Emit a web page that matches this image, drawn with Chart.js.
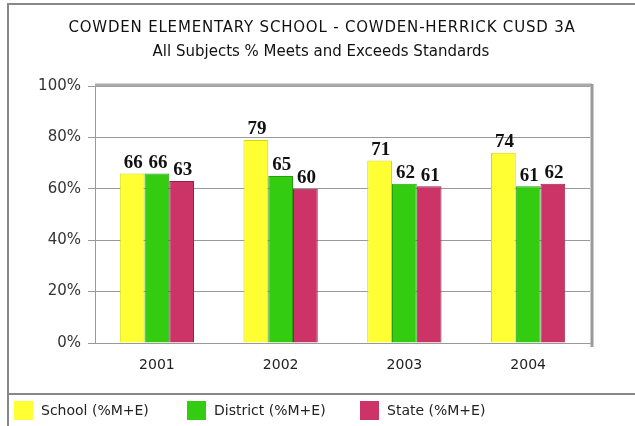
<!DOCTYPE html>
<html>
<head>
<meta charset="utf-8">
<script src="https://cdn.jsdelivr.net/npm/chart.js@4/dist/chart.umd.min.js"></script>
<style>
  html, body { margin: 0; padding: 0; background: #fff; }
  #wrap { width: 635px; height: 426px; position: relative; }
</style>
</head>
<body>
<div id="wrap"><canvas id="chart" width="635" height="426"></canvas></div>
<script>
  "use strict";

  // Data
  const years = ["2001", "2002", "2003", "2004"];
  const schoolValues = [66, 79, 71, 74];
  const districtValues = [66, 65, 62, 61];
  const stateValues = [63, 60, 61, 62];
  const seriesLabels = ["School (%M+E)", "District (%M+E)", "State (%M+E)"];
  const titleLines = [
    "COWDEN ELEMENTARY SCHOOL - COWDEN-HERRICK CUSD 3A",
    "All Subjects % Meets and Exceeds Standards",
  ];

  const fill = ["#ffff33", "#33cc11", "#cc3366"];
  const edge = ["#d8d800", "#22a010", "#992244"];
  const sansFont = "'DejaVu Sans', Verdana, sans-serif";

  // Frame, titles, 3D wall, value labels and legend
  const decorPlugin = {
    id: "decor",
    beforeDraw(chart) {
      const c = chart.ctx;
      c.save();
      c.fillStyle = "#fff";
      c.fillRect(0, 0, chart.width, chart.height);
      c.strokeStyle = "#888";
      c.lineWidth = 2;
      c.beginPath();
      c.moveTo(635, 4);
      c.lineTo(8, 4);
      c.lineTo(8, 426);
      c.stroke();
      c.beginPath();
      c.moveTo(8, 394);
      c.lineTo(635, 394);
      c.stroke();

      // titles
      c.fillStyle = "#111";
      c.textAlign = "center";
      c.textBaseline = "middle";
      c.font = "15px " + sansFont;
      c.letterSpacing = "0.8px";
      c.fillText(titleLines[0], 322, 28);
      c.letterSpacing = "0px";
      c.fillText(titleLines[1], 321, 52);
      c.restore();
    },
    afterDatasetsDraw(chart) {
      const c = chart.ctx;
      const a = chart.chartArea;
      c.save();
      // 3D top and right wall
      c.strokeStyle = "#aaa";
      c.lineWidth = 3;
      c.beginPath();
      c.moveTo(a.left, a.top - 1);
      c.lineTo(a.right + 2, a.top - 1);
      c.stroke();
      c.strokeStyle = "#999";
      c.beginPath();
      c.moveTo(a.right + 2, a.top - 2);
      c.lineTo(a.right + 2, a.bottom + 4);
      c.stroke();
      c.lineWidth = 1;
      c.strokeStyle = "#aaa";
      c.beginPath();
      c.moveTo(a.right, a.bottom);
      c.lineTo(a.right + 3, a.bottom + 4);
      c.stroke();

      // value labels
      c.fillStyle = "#111";
      c.font = "bold 19px 'Liberation Serif', serif";
      c.textAlign = "center";
      c.textBaseline = "bottom";
      chart.data.datasets.forEach(function (ds, i) {
        chart.getDatasetMeta(i).data.forEach(function (bar, j) {
          c.fillText(String(ds.data[j]), bar.x + 1, bar.y - 1);
        });
      });

      // legend
      const lx = [14, 187, 360];
      c.font = "14px " + sansFont;
      c.textAlign = "left";
      c.textBaseline = "middle";
      seriesLabels.forEach(function (lab, i) {
        c.fillStyle = fill[i];
        c.fillRect(lx[i], 401, 19, 19);
        c.fillStyle = "#222";
        c.fillText(lab, lx[i] + 27, 411);
      });
      c.restore();
    },
  };

  const ctx = document.getElementById("chart").getContext("2d");
  const myChart = new Chart(ctx, {
    type: "bar",
    data: {
      labels: years,
      datasets: [
        { label: seriesLabels[0], data: schoolValues, backgroundColor: fill[0], borderColor: edge[0], borderWidth: 1 },
        { label: seriesLabels[1], data: districtValues, backgroundColor: fill[1], borderColor: edge[1], borderWidth: 1 },
        { label: seriesLabels[2], data: stateValues, backgroundColor: fill[2], borderColor: edge[2], borderWidth: 1 },
      ],
    },
    options: {
      responsive: false,
      animation: false,
      events: [],
      layout: { padding: { left: 7, top: 86, right: 45, bottom: 48 } },
      datasets: {
        bar: { categoryPercentage: 0.6, barPercentage: 1 },
      },
      plugins: {
        legend: { display: false },
        tooltip: { enabled: false },
        title: { display: false },
      },
      scales: {
        x: {
          afterFit(scale) { scale.height = 35; },
          grid: { display: false, drawOnChartArea: false },
          border: { display: true, color: "#999", width: 1 },
          ticks: { color: "#222", font: { family: sansFont, size: 14 }, padding: 6 },
        },
        y: {
          min: 0,
          max: 100,
          afterFit(scale) { scale.width = 88; },
          border: { display: true, color: "#999", width: 1 },
          grid: { color: "#999", tickLength: 7 },
          ticks: {
            stepSize: 20,
            color: "#333",
            font: { family: sansFont, size: 15 },
            padding: 7,
            callback: function (v) { return v + "%"; },
          },
        },
      },
    },
    plugins: [decorPlugin],
  });
</script>
</body>
</html>
